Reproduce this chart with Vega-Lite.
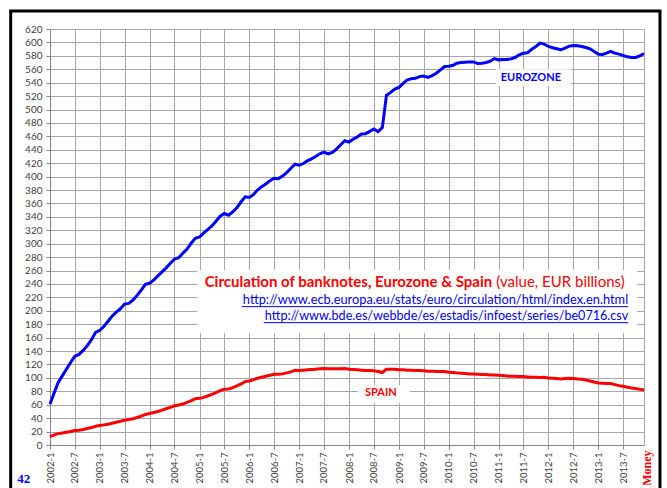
{
  "$schema": "https://vega.github.io/schema/vega-lite/v6.json",
  "width": 594,
  "height": 416,
  "autosize": {"type": "none"},
  "padding": {"left": 50, "top": 29, "right": 23, "bottom": 43},
  "background": "white",
  "config": {
    "view": {"stroke": "#a6a6a6", "strokeWidth": 1},
    "font": "Lato",
    "axis": {
      "gridColor": "#a6a6a6",
      "gridWidth": 1,
      "gridOpacity": 1,
      "domainColor": "#868686",
      "tickColor": "#868686",
      "tickSize": 4,
      "labelColor": "#404040",
      "labelFont": "Lato",
      "title": null
    }
  },
  "data": {
    "values": [
      {"d": "2002-01", "ez": 61, "es": 12.5}, {"d": "2002-02", "ez": 78, "es": 15}, {"d": "2002-03", "ez": 93, "es": 17}, {"d": "2002-04", "ez": 103, "es": 18}, {"d": "2002-05", "ez": 113, "es": 19}, {"d": "2002-06", "ez": 123, "es": 20}, {"d": "2002-07", "ez": 132, "es": 21.5}, {"d": "2002-08", "ez": 135, "es": 22}, {"d": "2002-09", "ez": 141, "es": 23}, {"d": "2002-10", "ez": 148, "es": 24.5}, {"d": "2002-11", "ez": 157, "es": 26}, {"d": "2002-12", "ez": 168, "es": 28},
      {"d": "2003-01", "ez": 171, "es": 29}, {"d": "2003-02", "ez": 177, "es": 30}, {"d": "2003-03", "ez": 184, "es": 31}, {"d": "2003-04", "ez": 192, "es": 32.5}, {"d": "2003-05", "ez": 198, "es": 34}, {"d": "2003-06", "ez": 203, "es": 35.5}, {"d": "2003-07", "ez": 210, "es": 37}, {"d": "2003-08", "ez": 211, "es": 38}, {"d": "2003-09", "ez": 216, "es": 39}, {"d": "2003-10", "ez": 223, "es": 41}, {"d": "2003-11", "ez": 231, "es": 43}, {"d": "2003-12", "ez": 239.5, "es": 45.5},
      {"d": "2004-01", "ez": 241, "es": 47}, {"d": "2004-02", "ez": 246, "es": 48.5}, {"d": "2004-03", "ez": 252, "es": 50}, {"d": "2004-04", "ez": 258, "es": 52}, {"d": "2004-05", "ez": 264, "es": 54}, {"d": "2004-06", "ez": 271, "es": 56}, {"d": "2004-07", "ez": 277, "es": 58.5}, {"d": "2004-08", "ez": 279, "es": 59.5}, {"d": "2004-09", "ez": 286, "es": 61}, {"d": "2004-10", "ez": 292, "es": 63.5}, {"d": "2004-11", "ez": 301, "es": 66}, {"d": "2004-12", "ez": 308, "es": 69},
      {"d": "2005-01", "ez": 310, "es": 69.5}, {"d": "2005-02", "ez": 316, "es": 71}, {"d": "2005-03", "ez": 321, "es": 73}, {"d": "2005-04", "ez": 326.5, "es": 75.5}, {"d": "2005-05", "ez": 333.5, "es": 78}, {"d": "2005-06", "ez": 341, "es": 81}, {"d": "2005-07", "ez": 345, "es": 83}, {"d": "2005-08", "ez": 342.5, "es": 83.5}, {"d": "2005-09", "ez": 347.5, "es": 85.5}, {"d": "2005-10", "ez": 353.5, "es": 88}, {"d": "2005-11", "ez": 362.5, "es": 91}, {"d": "2005-12", "ez": 370, "es": 94.5},
      {"d": "2006-01", "ez": 369, "es": 95.5}, {"d": "2006-02", "ez": 373.5, "es": 97.5}, {"d": "2006-03", "ez": 380, "es": 99.5}, {"d": "2006-04", "ez": 385, "es": 101}, {"d": "2006-05", "ez": 389, "es": 102.5}, {"d": "2006-06", "ez": 394, "es": 104}, {"d": "2006-07", "ez": 397.5, "es": 105.5}, {"d": "2006-08", "ez": 397, "es": 105.5}, {"d": "2006-09", "ez": 401, "es": 106}, {"d": "2006-10", "ez": 406, "es": 107.5}, {"d": "2006-11", "ez": 412.5, "es": 109}, {"d": "2006-12", "ez": 418.5, "es": 111.5},
      {"d": "2007-01", "ez": 417, "es": 111}, {"d": "2007-02", "ez": 419.5, "es": 111.5}, {"d": "2007-03", "ez": 423.5, "es": 112}, {"d": "2007-04", "ez": 426.5, "es": 112.5}, {"d": "2007-05", "ez": 430, "es": 113}, {"d": "2007-06", "ez": 434, "es": 113.5}, {"d": "2007-07", "ez": 436.5, "es": 114}, {"d": "2007-08", "ez": 434, "es": 113.5}, {"d": "2007-09", "ez": 436, "es": 113.5}, {"d": "2007-10", "ez": 441, "es": 113.5}, {"d": "2007-11", "ez": 447.5, "es": 113.5}, {"d": "2007-12", "ez": 453.5, "es": 114},
      {"d": "2008-01", "ez": 451.5, "es": 113}, {"d": "2008-02", "ez": 456, "es": 112.5}, {"d": "2008-03", "ez": 459, "es": 112}, {"d": "2008-04", "ez": 463.5, "es": 111.5}, {"d": "2008-05", "ez": 464, "es": 111}, {"d": "2008-06", "ez": 467.5, "es": 111}, {"d": "2008-07", "ez": 471, "es": 110.5}, {"d": "2008-08", "ez": 467, "es": 109.5}, {"d": "2008-09", "ez": 473, "es": 108}, {"d": "2008-10", "ez": 521, "es": 113}, {"d": "2008-11", "ez": 525.5, "es": 113}, {"d": "2008-12", "ez": 530.5, "es": 113},
      {"d": "2009-01", "ez": 533, "es": 112}, {"d": "2009-02", "ez": 539, "es": 112}, {"d": "2009-03", "ez": 544, "es": 111.5}, {"d": "2009-04", "ez": 546, "es": 111.5}, {"d": "2009-05", "ez": 546.5, "es": 111}, {"d": "2009-06", "ez": 549, "es": 111}, {"d": "2009-07", "ez": 550, "es": 110.5}, {"d": "2009-08", "ez": 548, "es": 110}, {"d": "2009-09", "ez": 550.5, "es": 110}, {"d": "2009-10", "ez": 554, "es": 109.5}, {"d": "2009-11", "ez": 559, "es": 109.5}, {"d": "2009-12", "ez": 564, "es": 109.5},
      {"d": "2010-01", "ez": 564.5, "es": 108.5}, {"d": "2010-02", "ez": 566, "es": 108}, {"d": "2010-03", "ez": 569, "es": 107.5}, {"d": "2010-04", "ez": 570, "es": 107}, {"d": "2010-05", "ez": 570.5, "es": 106.5}, {"d": "2010-06", "ez": 571, "es": 106}, {"d": "2010-07", "ez": 571, "es": 106}, {"d": "2010-08", "ez": 568.5, "es": 105.5}, {"d": "2010-09", "ez": 569, "es": 105}, {"d": "2010-10", "ez": 570, "es": 105}, {"d": "2010-11", "ez": 572, "es": 104.5}, {"d": "2010-12", "ez": 576, "es": 104.5},
      {"d": "2011-01", "ez": 574, "es": 104}, {"d": "2011-02", "ez": 574.5, "es": 103.5}, {"d": "2011-03", "ez": 574.5, "es": 103}, {"d": "2011-04", "ez": 575.5, "es": 102.5}, {"d": "2011-05", "ez": 577.5, "es": 102.5}, {"d": "2011-06", "ez": 581.5, "es": 102}, {"d": "2011-07", "ez": 584, "es": 102}, {"d": "2011-08", "ez": 584.5, "es": 101.5}, {"d": "2011-09", "ez": 590, "es": 101}, {"d": "2011-10", "ez": 594, "es": 101}, {"d": "2011-11", "ez": 599, "es": 100.5}, {"d": "2011-12", "ez": 597.5, "es": 101},
      {"d": "2012-01", "ez": 594, "es": 100}, {"d": "2012-02", "ez": 592, "es": 99.5}, {"d": "2012-03", "ez": 590.5, "es": 99}, {"d": "2012-04", "ez": 589, "es": 98.5}, {"d": "2012-05", "ez": 591.5, "es": 99}, {"d": "2012-06", "ez": 594.5, "es": 99.5}, {"d": "2012-07", "ez": 595.5, "es": 99}, {"d": "2012-08", "ez": 595, "es": 98.5}, {"d": "2012-09", "ez": 594, "es": 98}, {"d": "2012-10", "ez": 592.5, "es": 97}, {"d": "2012-11", "ez": 590.5, "es": 95.5}, {"d": "2012-12", "ez": 586.5, "es": 94},
      {"d": "2013-01", "ez": 582.5, "es": 92.5}, {"d": "2013-02", "ez": 582, "es": 92}, {"d": "2013-03", "ez": 584, "es": 91.5}, {"d": "2013-04", "ez": 586.5, "es": 91.5}, {"d": "2013-05", "ez": 584, "es": 90}, {"d": "2013-06", "ez": 582.5, "es": 88.5}, {"d": "2013-07", "ez": 580.5, "es": 87.5}, {"d": "2013-08", "ez": 578.5, "es": 86}, {"d": "2013-09", "ez": 577.5, "es": 85}, {"d": "2013-10", "ez": 577.5, "es": 84}, {"d": "2013-11", "ez": 580, "es": 83}, {"d": "2013-12", "ez": 583.5, "es": 82}
    ]
  },
  "layer": [
    {
      "mark": {"type": "line", "color": "#0000ff", "strokeWidth": 3},
      "encoding": {
        "x": {"field": "d", "type": "temporal", "timeUnit": "utcyearmonth",
          "scale": {"type": "utc", "nice": false, "domain": [{"expr": "utc(2002,0,1)"}, {"expr": "utc(2013,11,1)"}]},
          "axis": {"labelExpr": "utcFormat(datum.value, '%Y-%-m')", "tickCount": {"interval": "month", "step": 6}, "labelAngle": 270, "labelFontSize": 9.5, "labelPadding": 3, "labelOverlap": false, "labelFlush": false}},
        "y": {"field": "ez", "type": "quantitative",
          "scale": {"domain": [0, 620], "nice": false, "zero": false},
          "axis": {"tickCount": 31, "labelOverlap": false, "labelFontSize": 10, "labelPadding": 4}}
      }
    },
    {
      "mark": {"type": "line", "color": "#ff0000", "strokeWidth": 3},
      "encoding": {
        "x": {"field": "d", "type": "temporal", "timeUnit": "utcyearmonth",
          "axis": {"labelExpr": "utcFormat(datum.value, '%Y-%-m')", "tickCount": {"interval": "month", "step": 6}, "labelAngle": 270, "labelFontSize": 9.5, "labelPadding": 3, "labelOverlap": false, "labelFlush": false}},
        "y": {"field": "es", "type": "quantitative",
          "axis": {"tickCount": 31, "labelOverlap": false, "labelFontSize": 10, "labelPadding": 4}}
      }
    },
    {
      "data": {"values": [{"k": 1}]},
      "mark": {"type": "rect", "fill": "white"},
      "encoding": {
        "x": {"datum": {"expr": "utc(2004,11,13)"}, "type": "temporal",
          "axis": {"labelExpr": "utcFormat(datum.value, '%Y-%-m')", "tickCount": {"interval": "month", "step": 6}, "labelAngle": 270, "labelFontSize": 9.5, "labelPadding": 3, "labelOverlap": false, "labelFlush": false}},
        "x2": {"datum": {"expr": "utc(2013,9,12)"}},
        "y": {"datum": 261, "type": "quantitative",
          "axis": {"tickCount": 31, "labelOverlap": false, "labelFontSize": 10, "labelPadding": 4}},
        "y2": {"datum": 167}
      }
    },
    {
      "data": {"values": [{"k": 1}]},
      "mark": {"type": "rect", "fill": "white"},
      "encoding": {
        "x": {"datum": {"expr": "utc(2010,11,13)"}, "type": "temporal",
          "axis": {"labelExpr": "utcFormat(datum.value, '%Y-%-m')", "tickCount": {"interval": "month", "step": 6}, "labelAngle": 270, "labelFontSize": 9.5, "labelPadding": 3, "labelOverlap": false, "labelFlush": false}},
        "x2": {"datum": {"expr": "utc(2012,5,15)"}},
        "y": {"datum": 560, "type": "quantitative",
          "axis": {"tickCount": 31, "labelOverlap": false, "labelFontSize": 10, "labelPadding": 4}},
        "y2": {"datum": 535}
      }
    },
    {
      "data": {"values": [{"k": 1}]},
      "mark": {"type": "rect", "fill": "white"},
      "encoding": {
        "x": {"datum": {"expr": "utc(2008,2,6)"}, "type": "temporal",
          "axis": {"labelExpr": "utcFormat(datum.value, '%Y-%-m')", "tickCount": {"interval": "month", "step": 6}, "labelAngle": 270, "labelFontSize": 9.5, "labelPadding": 3, "labelOverlap": false, "labelFlush": false}},
        "x2": {"datum": {"expr": "utc(2009,2,21)"}},
        "y": {"datum": 89, "type": "quantitative",
          "axis": {"tickCount": 31, "labelOverlap": false, "labelFontSize": 10, "labelPadding": 4}},
        "y2": {"datum": 63}
      }
    },
    {
      "data": {"values": [{"k": 1}]},
      "mark": {"type": "text", "font": "Lato", "fontWeight": "bold", "fontSize": 11, "color": "#0000ff", "align": "center", "baseline": "middle"},
      "encoding": {
        "x": {"datum": {"expr": "utc(2011,7,25)"}, "type": "temporal",
          "axis": {"labelExpr": "utcFormat(datum.value, '%Y-%-m')", "tickCount": {"interval": "month", "step": 6}, "labelAngle": 270, "labelFontSize": 9.5, "labelPadding": 3, "labelOverlap": false, "labelFlush": false}},
        "y": {"datum": 547, "type": "quantitative",
          "axis": {"tickCount": 31, "labelOverlap": false, "labelFontSize": 10, "labelPadding": 4}},
        "text": {"value": "EUROZONE"}
      }
    },
    {
      "data": {"values": [{"k": 1}]},
      "mark": {"type": "text", "font": "Lato", "fontWeight": "bold", "fontSize": 11, "color": "#ff0000", "align": "center", "baseline": "middle"},
      "encoding": {
        "x": {"datum": {"expr": "utc(2008,7,21)"}, "type": "temporal",
          "axis": {"labelExpr": "utcFormat(datum.value, '%Y-%-m')", "tickCount": {"interval": "month", "step": 6}, "labelAngle": 270, "labelFontSize": 9.5, "labelPadding": 3, "labelOverlap": false, "labelFlush": false}},
        "y": {"datum": 77.5, "type": "quantitative",
          "axis": {"tickCount": 31, "labelOverlap": false, "labelFontSize": 10, "labelPadding": 4}},
        "text": {"value": "SPAIN"}
      }
    },
    {
      "data": {"values": [{"k": 1}]},
      "mark": {"type": "text", "font": "Lato", "fontWeight": "bold", "fontSize": 15, "color": "#ff0000", "align": "right", "baseline": "alphabetic"},
      "encoding": {
        "x": {"datum": {"expr": "utc(2010,10,15)"}, "type": "temporal",
          "axis": {"labelExpr": "utcFormat(datum.value, '%Y-%-m')", "tickCount": {"interval": "month", "step": 6}, "labelAngle": 270, "labelFontSize": 9.5, "labelPadding": 3, "labelOverlap": false, "labelFlush": false}},
        "y": {"datum": 236, "type": "quantitative",
          "axis": {"tickCount": 31, "labelOverlap": false, "labelFontSize": 10, "labelPadding": 4}},
        "text": {"value": "Circulation of banknotes, Eurozone & Spain"}
      }
    },
    {
      "data": {"values": [{"k": 1}]},
      "mark": {"type": "text", "font": "Lato", "fontSize": 15, "color": "#ff0000", "align": "left", "baseline": "alphabetic"},
      "encoding": {
        "x": {"datum": {"expr": "utc(2010,11,15)"}, "type": "temporal",
          "axis": {"labelExpr": "utcFormat(datum.value, '%Y-%-m')", "tickCount": {"interval": "month", "step": 6}, "labelAngle": 270, "labelFontSize": 9.5, "labelPadding": 3, "labelOverlap": false, "labelFlush": false}},
        "y": {"datum": 236, "type": "quantitative",
          "axis": {"tickCount": 31, "labelOverlap": false, "labelFontSize": 10, "labelPadding": 4}},
        "text": {"value": "(value, EUR billions)"}
      }
    },
    {
      "data": {"values": [{"k": 1}]},
      "mark": {"type": "text", "font": "Lato", "fontSize": 12.8, "color": "#0000ee", "align": "right", "baseline": "alphabetic"},
      "encoding": {
        "x": {"datum": {"expr": "utc(2013,7,7)"}, "type": "temporal",
          "axis": {"labelExpr": "utcFormat(datum.value, '%Y-%-m')", "tickCount": {"interval": "month", "step": 6}, "labelAngle": 270, "labelFontSize": 9.5, "labelPadding": 3, "labelOverlap": false, "labelFlush": false}},
        "y": {"datum": 209.7, "type": "quantitative",
          "axis": {"tickCount": 31, "labelOverlap": false, "labelFontSize": 10, "labelPadding": 4}},
        "text": {"value": "http://www.ecb.europa.eu/stats/euro/circulation/html/index.en.html"}
      }
    },
    {
      "data": {"values": [{"k": 1}]},
      "mark": {"type": "text", "font": "Lato", "fontSize": 12.6, "color": "#0000ee", "align": "right", "baseline": "alphabetic"},
      "encoding": {
        "x": {"datum": {"expr": "utc(2013,7,7)"}, "type": "temporal",
          "axis": {"labelExpr": "utcFormat(datum.value, '%Y-%-m')", "tickCount": {"interval": "month", "step": 6}, "labelAngle": 270, "labelFontSize": 9.5, "labelPadding": 3, "labelOverlap": false, "labelFlush": false}},
        "y": {"datum": 186.3, "type": "quantitative",
          "axis": {"tickCount": 31, "labelOverlap": false, "labelFontSize": 10, "labelPadding": 4}},
        "text": {"value": "http://www.bde.es/webbde/es/estadis/infoest/series/be0716.csv"}
      }
    },
    {
      "data": {"values": [{"k": 1}]},
      "mark": {"type": "rule", "color": "#0000ee", "strokeWidth": 1},
      "encoding": {
        "x": {"datum": {"expr": "utc(2005,10,6)"}, "type": "temporal",
          "axis": {"labelExpr": "utcFormat(datum.value, '%Y-%-m')", "tickCount": {"interval": "month", "step": 6}, "labelAngle": 270, "labelFontSize": 9.5, "labelPadding": 3, "labelOverlap": false, "labelFlush": false}},
        "x2": {"datum": {"expr": "utc(2013,7,7)"}},
        "y": {"datum": 206.2, "type": "quantitative",
          "axis": {"tickCount": 31, "labelOverlap": false, "labelFontSize": 10, "labelPadding": 4}}
      }
    },
    {
      "data": {"values": [{"k": 1}]},
      "mark": {"type": "rule", "color": "#0000ee", "strokeWidth": 1},
      "encoding": {
        "x": {"datum": {"expr": "utc(2006,3,16)"}, "type": "temporal",
          "axis": {"labelExpr": "utcFormat(datum.value, '%Y-%-m')", "tickCount": {"interval": "month", "step": 6}, "labelAngle": 270, "labelFontSize": 9.5, "labelPadding": 3, "labelOverlap": false, "labelFlush": false}},
        "x2": {"datum": {"expr": "utc(2013,7,7)"}},
        "y": {"datum": 182.3, "type": "quantitative",
          "axis": {"tickCount": 31, "labelOverlap": false, "labelFontSize": 10, "labelPadding": 4}}
      }
    },
    {
      "data": {"values": [{"k": 1}]},
      "mark": {"type": "text", "font": "Liberation Serif", "fontWeight": "bold", "fontSize": 13, "color": "#0000ff", "align": "center", "baseline": "alphabetic"},
      "encoding": {
        "x": {"datum": {"expr": "utc(2001,5,22)"}, "type": "temporal",
          "axis": {"labelExpr": "utcFormat(datum.value, '%Y-%-m')", "tickCount": {"interval": "month", "step": 6}, "labelAngle": 270, "labelFontSize": 9.5, "labelPadding": 3, "labelOverlap": false, "labelFlush": false}},
        "y": {"datum": -56, "type": "quantitative",
          "axis": {"tickCount": 31, "labelOverlap": false, "labelFontSize": 10, "labelPadding": 4}},
        "text": {"value": "42"}
      }
    },
    {
      "data": {"values": [{"k": 1}]},
      "mark": {"type": "text", "font": "Liberation Serif", "fontWeight": "bold", "fontSize": 12, "color": "#ff0000", "align": "left", "baseline": "alphabetic", "angle": 270},
      "encoding": {
        "x": {"datum": {"expr": "utc(2014,0,23)"}, "type": "temporal",
          "axis": {"labelExpr": "utcFormat(datum.value, '%Y-%-m')", "tickCount": {"interval": "month", "step": 6}, "labelAngle": 270, "labelFontSize": 9.5, "labelPadding": 3, "labelOverlap": false, "labelFlush": false}},
        "y": {"datum": -60.7, "type": "quantitative",
          "axis": {"tickCount": 31, "labelOverlap": false, "labelFontSize": 10, "labelPadding": 4}},
        "text": {"value": "Money"}
      }
    },
    {
      "data": {"values": [{"k": 1}]},
      "mark": {"type": "rect", "fillOpacity": 0, "stroke": "black", "strokeWidth": 3},
      "encoding": {
        "x": {"datum": {"expr": "utc(2001,2,19)"}, "type": "temporal",
          "axis": {"labelExpr": "utcFormat(datum.value, '%Y-%-m')", "tickCount": {"interval": "month", "step": 6}, "labelAngle": 270, "labelFontSize": 9.5, "labelPadding": 3, "labelOverlap": false, "labelFlush": false}},
        "x2": {"datum": {"expr": "utc(2014,2,28)"}},
        "y": {"datum": 647, "type": "quantitative",
          "axis": {"tickCount": 31, "labelOverlap": false, "labelFontSize": 10, "labelPadding": 4}},
        "y2": {"datum": -70}
      }
    }
  ]
}
